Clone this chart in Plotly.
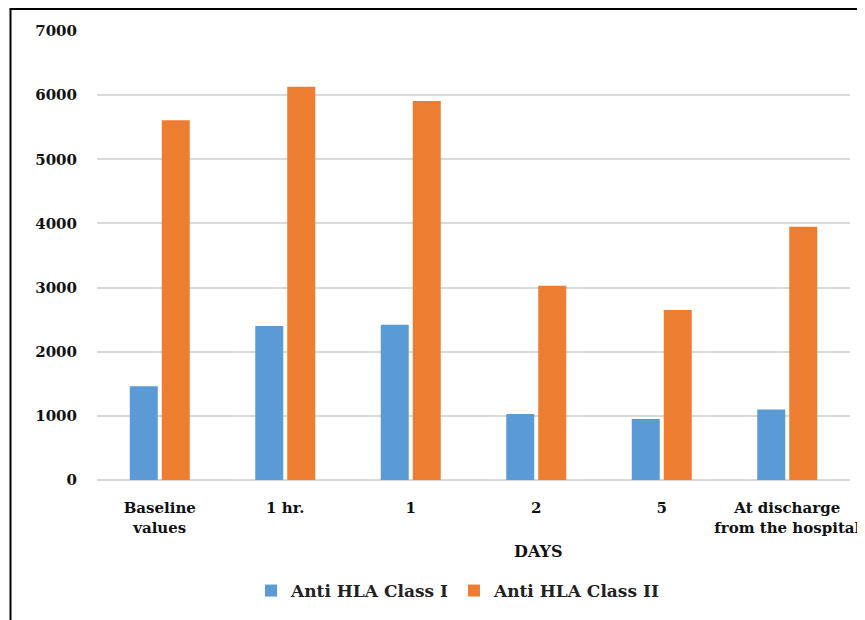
import plotly.graph_objects as go

categories = ["Baseline<br>values", "1 hr.", "1", "2", "5", "At discharge<br>from the hospital"]
class_i = [1460, 2400, 2420, 1030, 950, 1100]
class_ii = [5610, 6130, 5910, 3030, 2650, 3950]
series_names = ["Anti HLA Class I", "Anti HLA Class II"]
y_ticks = [0, 1000, 2000, 3000, 4000, 5000, 6000, 7000]

FONT = "DejaVu Serif"
OFF = 8  # page body offset
W, H = 865 - OFF, 620 - OFF
L, T = 97 - OFF, 31 - OFF
R = W - (850 - OFF)
B = H - (480 - OFF)
pw, ph = W - L - R, H - T - B

fig = go.Figure()
fig.add_trace(go.Bar(x=categories, y=class_i, name=series_names[0], marker=dict(color="#5b9bd5", line=dict(width=0))))
fig.add_trace(go.Bar(x=categories, y=class_ii, name=series_names[1], marker=dict(color="#ed7d31", line=dict(width=0))))

def px(x):
    return (x - OFF - L) / pw

def py(y):
    return (H - B - (y - OFF)) / ph

fig.update_layout(
    width=W, height=H,
    margin=dict(l=L, r=R, t=T, b=B, autoexpand=False),
    paper_bgcolor="white", plot_bgcolor="white",
    barmode="group", bargap=0.49, bargroupgap=0.125,
    font=dict(family=FONT, color="#222222", size=16),
    showlegend=True,
    legend=dict(orientation="h", x=px(458), xanchor="center", y=py(591), yanchor="middle",
                font=dict(family=FONT, size=17, color="#222222", weight="bold"), itemwidth=30, traceorder="normal"),
    xaxis=dict(showgrid=False, showline=False, ticks="", tickfont=dict(family=FONT, size=15, color="#111111", weight="bold"),
               tickangle=0, ticklabelstandoff=17),
    yaxis=dict(range=[0, 7000], tickvals=y_ticks, showgrid=True, gridcolor="#d9d9d9", gridwidth=1.5,
               zeroline=True, zerolinecolor="#d9d9d9", zerolinewidth=1.5, showline=False, ticks="",
               tickfont=dict(family=FONT, size=15, color="#111111", weight="bold"),
               ticklabelstandoff=19),
    shapes=[
        dict(type="line", xref="paper", yref="paper", x0=px(10.5), x1=px(10.5), y0=py(9), y1=py(640),
             line=dict(color="black", width=2)),
        dict(type="line", xref="paper", yref="paper", x0=px(9.5), x1=px(880), y0=py(9), y1=py(9),
             line=dict(color="black", width=2)),
    ],
    annotations=[
        dict(text="DAYS", xref="paper", yref="paper", x=px(538), y=py(551), showarrow=False,
             font=dict(family=FONT, size=16, color="#111111", weight="bold"), xanchor="center", yanchor="middle"),
    ],
)

fig.write_html("out.html")
